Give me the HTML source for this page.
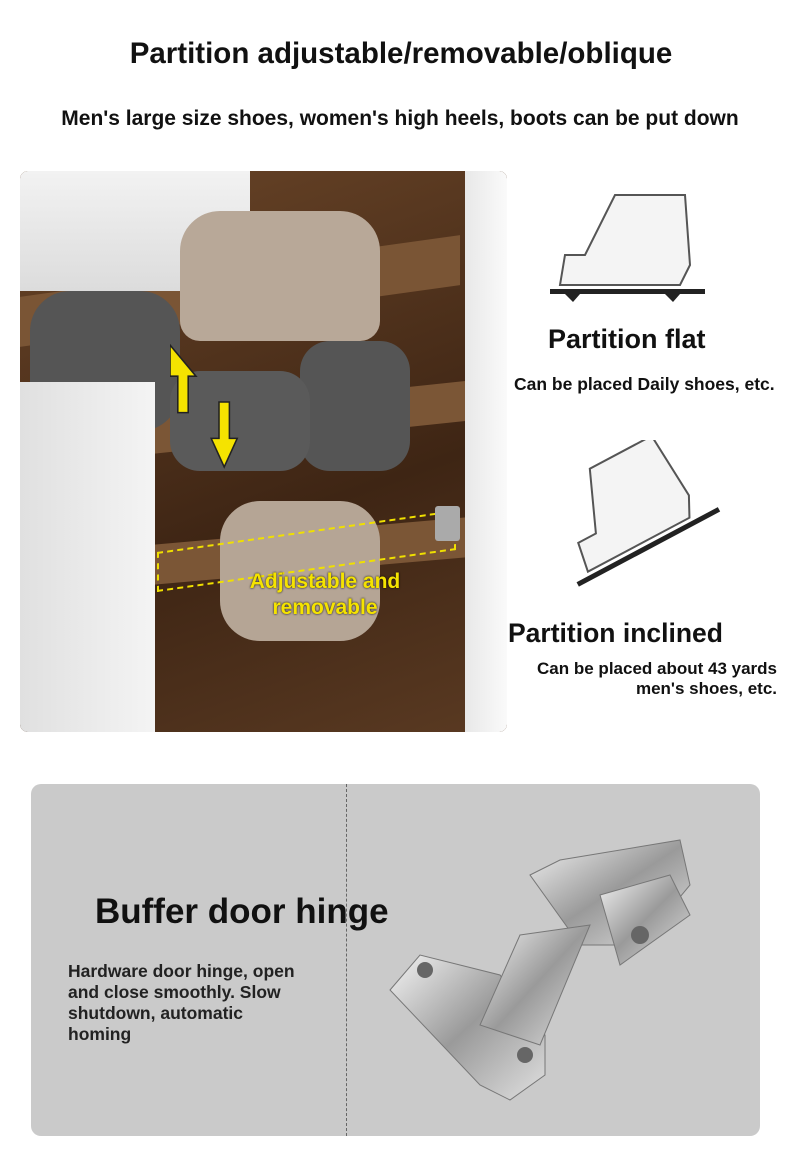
<!DOCTYPE html>
<html><head><meta charset="utf-8"><style>
body{margin:0;width:790px;height:1175px;background:#fff;position:relative;font-family:"Liberation Sans",sans-serif;overflow:hidden}
.a{position:absolute}
.b{font-weight:bold;color:#111}
</style></head><body>
<div class="a b" style="left:0;width:802px;top:37px;text-align:center;font-size:29.5px">Partition adjustable/removable/oblique</div>
<div class="a b" style="left:0;width:800px;top:107px;text-align:center;font-size:21px">Men's large size shoes, women's high heels, boots can be put down</div>

<div class="a" style="left:20px;top:171px;width:487px;height:561px;border-radius:8px;overflow:hidden;background:#4a2e1a">
  <div class="a" style="left:0;top:0;width:487px;height:561px;background:linear-gradient(160deg,#6a4528,#3e2514 60%,#5a3a22)"></div>
  <div class="a" style="left:0;top:95px;width:440px;height:50px;background:#7a5535;transform:skewY(-8deg)"></div>
  <div class="a" style="left:60px;top:230px;width:390px;height:40px;background:#7b5636;transform:skewY(-6deg)"></div>
  <div class="a" style="left:130px;top:360px;width:320px;height:40px;background:#7b5636;transform:skewY(-5deg)"></div>
  <div class="a" style="left:0;top:0;width:230px;height:120px;background:linear-gradient(#f2f2f2,#dcdcdc)"></div>
  <div class="a" style="left:445px;top:0;width:42px;height:561px;background:linear-gradient(90deg,#e8e8e8,#fafafa)"></div>
  <div class="a" style="left:160px;top:40px;width:200px;height:130px;background:#b8a898;border-radius:40px 40px 20px 20px"></div>
  <div class="a" style="left:10px;top:120px;width:150px;height:140px;background:#555;border-radius:40px"></div>
  <div class="a" style="left:280px;top:170px;width:110px;height:130px;background:#555;border-radius:30px"></div>
  <div class="a" style="left:150px;top:200px;width:140px;height:100px;background:#5a5a5a;border-radius:30px"></div>
  <div class="a" style="left:200px;top:330px;width:160px;height:140px;background:#b5a595;border-radius:40px"></div>
  <div class="a" style="left:0;top:211px;width:135px;height:350px;background:linear-gradient(90deg,#e0e0e0,#f4f4f4)"></div>
  <div class="a" style="left:137px;top:360px;width:295px;height:36px;border:2px dashed #f0e000;transform:skewY(-8deg)"></div>
  <svg class="a" style="left:150px;top:165px" width="80" height="150">
    <path d="M26 4 L46 28 L40 28 L40 56 L32 56 L32 28 L26 28 Z" transform="translate(-26 -4) scale(1.3) translate(-6 6)" fill="#f5e300" stroke="#222" stroke-width="1.2"/>
    <path d="M50 80 L58 80 L58 108 L64 108 L54 130 L44 108 L50 108 Z" transform="translate(-16 -38) scale(1.3)" fill="#f5e300" stroke="#222" stroke-width="1.2"/>
  </svg>
  <div class="a" style="left:200px;top:398px;width:210px;text-align:center;color:#f5e300;font-weight:bold;font-size:21px;line-height:26px;text-shadow:0 0 2px #000">Adjustable and removable</div>
  <div class="a" style="left:415px;top:335px;width:25px;height:35px;background:#aaa;border-radius:3px"></div>
</div>

<svg class="a" style="left:545px;top:185px" width="165" height="120"><path d="M20 70 L40 70 L70 10 L140 10 L145 80 L135 100 L15 100 Z" fill="#f4f4f4" stroke="#555" stroke-width="2"/><rect x="5" y="104" width="155" height="5" fill="#222"/><path d="M20 109 h15 l-7 8z M120 109 h15 l-7 8z" fill="#222"/></svg>
<div class="a b" style="left:548px;top:324px;font-size:27px">Partition flat</div>
<div class="a b" style="left:514px;top:374px;font-size:17.5px">Can be placed Daily shoes, etc.</div>
<svg class="a" style="left:565px;top:440px" width="170" height="160"><g transform="rotate(-28 85 110)"><path d="M25 70 L45 70 L70 10 L140 10 L145 80 L135 100 L20 100 Z" fill="#f4f4f4" stroke="#555" stroke-width="2"/><rect x="5" y="104" width="160" height="5" fill="#222"/></g></svg>
<div class="a b" style="left:508px;top:618px;font-size:26.5px">Partition inclined</div>
<div class="a b" style="left:480px;top:659px;width:297px;text-align:right;font-size:17px;line-height:20px">Can be placed about 43 yards<br>men's shoes, etc.</div>

<div class="a" style="left:31px;top:784px;width:729px;height:352px;background:#cacaca;border-radius:10px"></div>
<div class="a" style="left:346px;top:784px;height:352px;border-left:1px dashed #666"></div>
<div class="a b" style="left:95px;top:892px;font-size:35px">Buffer door hinge</div>
<div class="a b" style="left:68px;top:961px;font-size:17.5px;line-height:21px;color:#222">Hardware door hinge, open<br>and close smoothly. Slow<br>shutdown, automatic<br>homing</div>
<svg class="a" style="left:380px;top:815px" width="330" height="295">
<defs><linearGradient id="m" x1="0" y1="0" x2="1" y2="1"><stop offset="0" stop-color="#f4f4f4"/><stop offset=".5" stop-color="#9a9a9a"/><stop offset="1" stop-color="#e0e0e0"/></linearGradient></defs>
<path d="M10 175 L40 140 L120 160 L165 220 L165 260 L130 285 L100 270 Z" fill="url(#m)" stroke="#777"/>
<path d="M150 60 L180 45 L300 25 L310 70 L260 130 L200 130 Z" fill="url(#m)" stroke="#777"/>
<path d="M140 120 L210 110 L160 230 L100 210 Z" fill="url(#m)" stroke="#777"/>
<path d="M220 80 L290 60 L310 100 L240 150 Z" fill="url(#m)" stroke="#777"/>
<circle cx="45" cy="155" r="8" fill="#666"/><circle cx="145" cy="240" r="8" fill="#666"/><circle cx="260" cy="120" r="9" fill="#666"/>
</svg>
</body></html>
